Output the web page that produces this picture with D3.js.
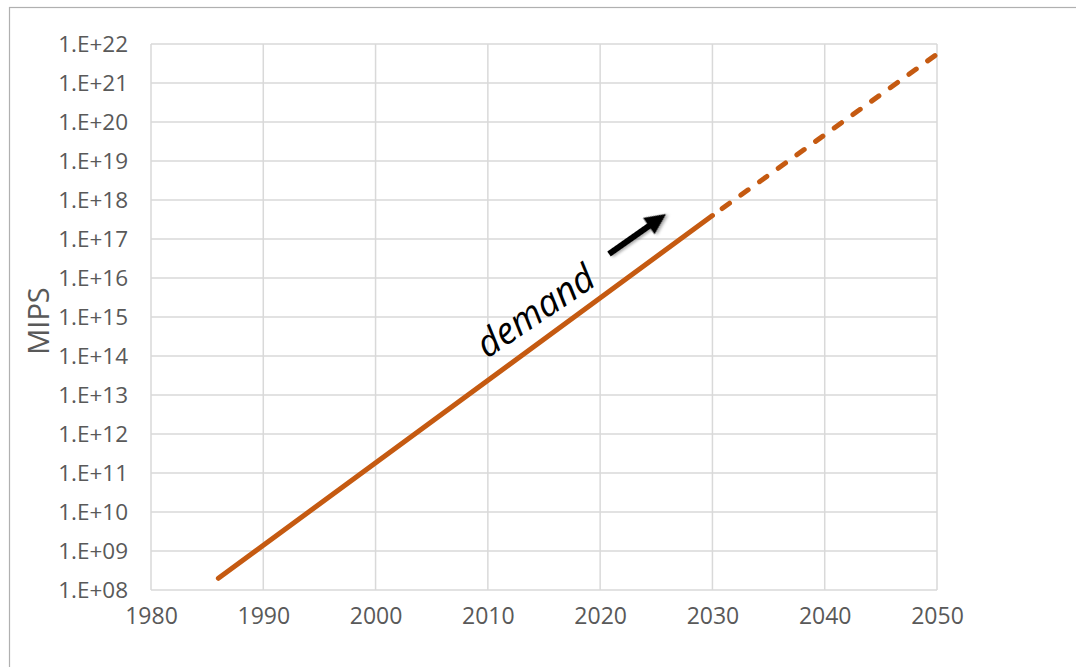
<!DOCTYPE html>
<html>
<head>
<meta charset="utf-8">
<script src="https://cdn.jsdelivr.net/npm/d3@7"></script>
<style>
  html, body { margin: 0; padding: 0; background: #fff; }
  svg { display: block; }
  text { font-family: "Open Sans", "Noto Sans", sans-serif; }
</style>
</head>
<body>
<svg id="chart" width="1076" height="667"></svg>
<script>
// Computing demand (MIPS) over time: measured trend and projection
const yearTicks = [1980, 1990, 2000, 2010, 2020, 2030, 2040, 2050];
const exponentTicks = [8, 9, 10, 11, 12, 13, 14, 15, 16, 17, 18, 19, 20, 21, 22];
const trendYears = [1986, 2030];
const trendMips = [2.0e8, 4.0e17];
const projectionYears = [2030, 2050];
const projectionMips = [4.0e17, 5.5e21];
const yLabel = "MIPS";
const annotation = "demand";

const svg = d3.select("#chart");
const margin = { left: 151, right: 1076 - 937, top: 44, bottom: 667 - 590 };
const W = 1076, H = 667;

// outer frame (only top and left edges fall inside the page)
svg.append("rect")
  .attr("x", 9.5).attr("y", 7.5)
  .attr("width", 1200).attr("height", 800)
  .attr("fill", "none").attr("stroke", "#b0b0b0").attr("stroke-width", 1.2);

const x = d3.scaleLinear().domain([1980, 2050]).range([margin.left, W - margin.right]);
const y = d3.scaleLog().domain([1e8, 1e22]).range([H - margin.bottom, margin.top]);

const grid = svg.append("g").attr("stroke", "#d9d9d9").attr("stroke-width", 1.5);
grid.selectAll("line.h").data(exponentTicks).join("line")
  .attr("x1", x(1980)).attr("x2", x(2050))
  .attr("y1", d => y(Math.pow(10, d))).attr("y2", d => y(Math.pow(10, d)));
grid.selectAll("line.v").data(yearTicks).join("line")
  .attr("y1", y(1e8)).attr("y2", y(1e22))
  .attr("x1", d => x(d)).attr("x2", d => x(d));

// y axis labels
const yAxis = d3.axisLeft(y)
  .tickValues(exponentTicks.map(e => Math.pow(10, e)))
  .tickFormat(d => "1.E+" + String(Math.round(Math.log10(d))).padStart(2, "0"))
  .tickSize(0).tickPadding(23);
const gy = svg.append("g").attr("transform", `translate(${margin.left},0)`).call(yAxis);
gy.select(".domain").remove();
gy.selectAll("text").attr("fill", "#595959").style("font-size", "22.5px")
  .style("font-family", "'Open Sans', sans-serif");

// x axis labels
const xAxis = d3.axisBottom(x).tickValues(yearTicks).tickFormat(d3.format("d"))
  .tickSize(0).tickPadding(18);
const gx = svg.append("g").attr("transform", `translate(0,${y(1e8)})`).call(xAxis);
gx.select(".domain").remove();
gx.selectAll("text").attr("fill", "#595959").style("font-size", "23px")
  .style("font-family", "'Open Sans', sans-serif");

// axis title
svg.append("text")
  .attr("transform", `translate(49,${(y(1e8) + y(1e22)) / 2 + 4}) rotate(-90)`)
  .attr("text-anchor", "middle")
  .attr("fill", "#595959")
  .style("font-size", "29px")
  .text(yLabel);

const line = d3.line().x(d => x(d[0])).y(d => y(d[1]));
const orange = "#c55a11";

svg.append("path")
  .datum(d3.zip(trendYears, trendMips))
  .attr("d", line)
  .attr("fill", "none").attr("stroke", orange)
  .attr("stroke-width", 5).attr("stroke-linecap", "round");

svg.append("path")
  .datum(d3.zip(projectionYears, projectionMips))
  .attr("d", line)
  .attr("fill", "none").attr("stroke", orange)
  .attr("stroke-width", 5).attr("stroke-linecap", "round")
  .attr("stroke-dasharray", "9,14").attr("stroke-dashoffset", -12);

// annotation text and arrow
const defs = svg.append("defs");
const shadow = defs.append("filter").attr("id", "shadow")
  .attr("x", "-30%").attr("y", "-30%").attr("width", "160%").attr("height", "160%");
shadow.append("feDropShadow").attr("dx", 1.5).attr("dy", 2).attr("stdDeviation", 1.5)
  .attr("flood-color", "#000").attr("flood-opacity", 0.35);

svg.append("text")
  .attr("transform", "translate(487,359) rotate(-34)")
  .style("font-size", "37px").style("font-style", "italic")
  .attr("fill", "#000")
  .attr("textLength", 134).attr("lengthAdjust", "spacingAndGlyphs")
  .text(annotation);

const ax0 = 609, ay0 = 254, ax1 = 666, ay1 = 214;
const ang = Math.atan2(ay1 - ay0, ax1 - ax0) * 180 / Math.PI;
const len = Math.hypot(ax1 - ax0, ay1 - ay0);
const arrow = svg.append("g")
  .attr("transform", `translate(${ax0},${ay0}) rotate(${ang})`)
  .attr("filter", "url(#shadow)");
arrow.append("line").attr("x1", 0).attr("y1", 0).attr("x2", len - 16).attr("y2", 0)
  .attr("stroke", "#000").attr("stroke-width", 6);
arrow.append("path")
  .attr("d", `M${len},0 L${len - 21},-10 L${len - 21},10 Z`)
  .attr("fill", "#000");
</script>
</body>
</html>
